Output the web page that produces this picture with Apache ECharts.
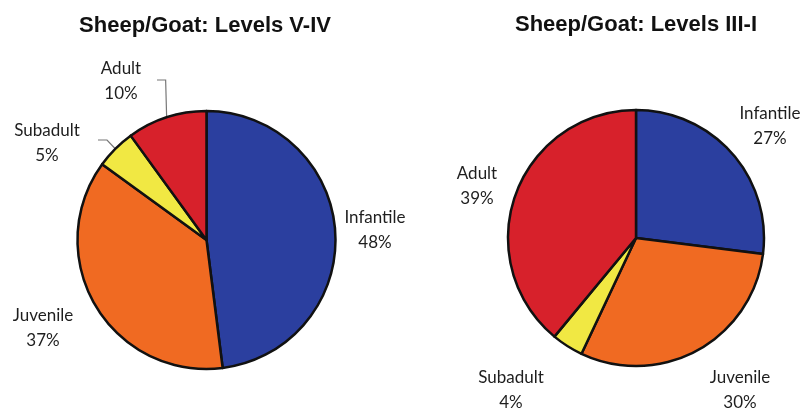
<!DOCTYPE html>
<html>
<head>
<meta charset="utf-8">
<script src="https://cdn.jsdelivr.net/npm/echarts@6/dist/echarts.min.js"></script>
<style>
  html, body { margin: 0; padding: 0; background: #fff; }
  #chart { width: 807px; height: 409px; }
</style>
</head>
<body>
<div id="chart"></div>
<script>
// age classes, clockwise from 12 o'clock
var stagesV_IV = ['Infantile', 'Juvenile', 'Subadult', 'Adult'];
var pctV_IV = [48, 37, 5, 10];
var stagesIII_I = ['Infantile', 'Juvenile', 'Subadult', 'Adult'];
var pctIII_I = [27, 30, 4, 39];

var stageColors = {
  Infantile: '#2b3f9f',
  Juvenile: '#f06a22',
  Subadult: '#f1e843',
  Adult: '#d7212b'
};

// where each label sits (centre of the two-line text)
var labelPosLeft = [[375, 230], [43, 328], [47, 143], [121, 81]];
var labelPosRight = [[770, 126], [740, 390], [511, 390], [477, 186]];

function makeData(names, vals) {
  return names.map(function (n, i) {
    return { name: n, value: vals[i], itemStyle: { color: stageColors[n] } };
  });
}

var chart = echarts.init(document.getElementById('chart'));

var labelStyle = {
  show: true,
  position: 'outside',
  formatter: '{b}\n{c}%',
  fontFamily: 'Lato',
  fontSize: 17,
  lineHeight: 25,
  color: '#1e1e1e'
};

var titleText = { fontFamily: 'Liberation Sans', fontWeight: 'bold', fontSize: 22, color: '#111' };

chart.setOption({
  animation: false,
  title: [
    { text: 'Sheep/Goat: Levels V-IV', left: 205, top: 15, padding: 0, textAlign: 'center', textStyle: titleText },
    { text: 'Sheep/Goat: Levels III-I', left: 636, top: 14, padding: 0, textAlign: 'center', textStyle: titleText }
  ],
  series: [
    {
      type: 'pie',
      center: [206.5, 240],
      radius: 129,
      startAngle: 90,
      clockwise: true,
      avoidLabelOverlap: false,
      itemStyle: { borderColor: '#111', borderWidth: 2.5 },
      label: labelStyle,
      labelLine: { show: true, length: 20, length2: 8, lineStyle: { color: '#777', width: 1.2 } },
      labelLayout: function (p) {
        var pos = labelPosLeft[p.dataIndex];
        var out = { x: pos[0], y: pos[1], align: 'center', verticalAlign: 'middle' };
        var p0 = p.labelLinePoints && p.labelLinePoints[0];
        if (p0 && p.dataIndex === 3) {
          out.labelLinePoints = [p0, [p0[0] - 1, 80], [157, 80]];
        } else if (p0 && p.dataIndex === 2) {
          out.labelLinePoints = [p0, [107, 140], [98, 140]];
        }
        return out;
      },
      data: makeData(stagesV_IV, pctV_IV).map(function (d, i) {
        if (i < 2) d.labelLine = { show: false };
        return d;
      })
    },
    {
      type: 'pie',
      center: [636, 238],
      radius: 128,
      startAngle: 90,
      clockwise: true,
      avoidLabelOverlap: false,
      itemStyle: { borderColor: '#111', borderWidth: 2.5 },
      label: labelStyle,
      labelLine: { show: false },
      labelLayout: function (p) {
        var pos = labelPosRight[p.dataIndex];
        return { x: pos[0], y: pos[1], align: 'center', verticalAlign: 'middle' };
      },
      data: makeData(stagesIII_I, pctIII_I)
    }
  ]
});
</script>
</body>
</html>
